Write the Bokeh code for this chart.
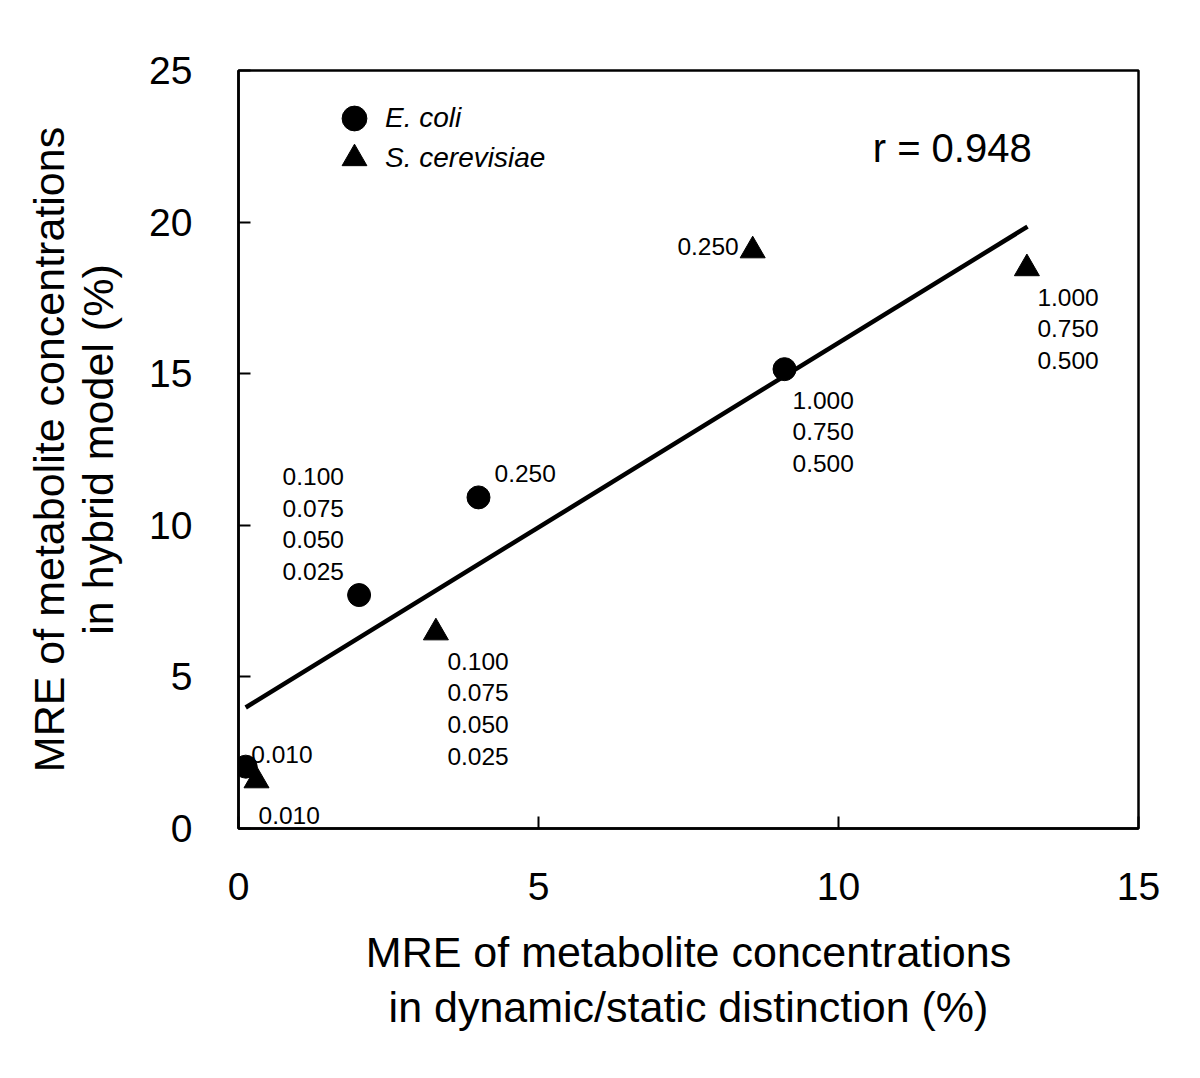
from bokeh.plotting import figure
from bokeh.models import (Range1d, FixedTicker, ColumnDataSource, Legend, LegendItem, Label)
from bokeh.embed import file_html
from bokeh.resources import INLINE
from bokeh.core.properties import value

# ---- data ----
ecoli_x = [0.12, 2.01, 4.0, 9.1]
ecoli_y = [2.04, 7.70, 10.92, 15.15]
ecoli_labels = ["0.010", "0.100\n0.075\n0.050\n0.025", "0.250", "1.000\n0.750\n0.500"]

scer_x = [0.3, 3.29, 8.57, 13.14]
scer_y = [1.58, 6.46, 19.06, 18.47]
scer_labels = ["0.010", "0.100\n0.075\n0.050\n0.025", "0.250", "1.000\n0.750\n0.500"]

fit_x = [0.12, 13.15]
fit_y = [3.99, 19.85]
r_text = "r = 0.948"

x_ticks = [0, 5, 10, 15]
y_ticks = [0, 5, 10, 15, 20, 25]

# ---- label styling (pixel offsets from each point) ----
ecoli_dx = [5.5, -76.5, 16, 8]
ecoli_dy = [-12, -71, -24, 62.5]
ecoli_align = ["left", "left", "left", "left"]
scer_dx = [2, 11.5, -14, 10.5]
scer_dy = [35, 76, -4, 60.5]
scer_align = ["left", "left", "right", "left"]

FONT = "Liberation Sans"

p = figure(width=1184, height=1062, output_backend="svg", toolbar_location=None,
           x_range=Range1d(0, 15), y_range=Range1d(0, 25),
           min_border_left=238, min_border_right=46, min_border_top=70, min_border_bottom=234)
p.background_fill_color = "white"
p.border_fill_color = "white"
p.outline_line_color = "black"
p.outline_line_width = 2.5
p.xgrid.visible = False
p.ygrid.visible = False

p.xaxis.ticker = FixedTicker(ticks=x_ticks)
p.yaxis.ticker = FixedTicker(ticks=y_ticks)
for ax in (p.xaxis[0], p.yaxis[0]):
    ax.axis_line_color = "black"
    ax.axis_line_width = 2.5
    ax.major_tick_in = 12
    ax.major_tick_out = 0
    ax.major_tick_line_width = 2
    ax.major_tick_line_color = "black"
    ax.minor_tick_line_color = None
    ax.major_label_text_font = FONT
    ax.major_label_text_font_size = "39px"
    ax.major_label_text_color = "black"
    ax.axis_label_text_font = FONT
    ax.axis_label_text_font_size = "43px"
    ax.axis_label_text_font_style = "normal"
    ax.axis_label_text_color = "black"

p.xaxis.axis_label_text_line_height = 1.15
p.yaxis.axis_label_text_line_height = 1.02
p.xaxis.axis_label = "MRE of metabolite concentrations\nin dynamic/static distinction (%)"
p.yaxis.axis_label = "MRE of metabolite concentrations\nin hybrid model (%)"
p.xaxis.major_label_standoff = 44
p.yaxis.major_label_standoff = 46
p.xaxis.axis_label_standoff = 25
p.yaxis.axis_label_standoff = 24

# fit line
p.line(fit_x, fit_y, line_color="black", line_width=4.5)

# points
ec_src = ColumnDataSource(dict(x=ecoli_x, y=ecoli_y, label=ecoli_labels,
                               dx=ecoli_dx, dy=ecoli_dy, align=ecoli_align))
sc_src = ColumnDataSource(dict(x=scer_x, y=scer_y, label=scer_labels,
                               dx=scer_dx, dy=scer_dy, align=scer_align))

r_ec = p.scatter("x", "y", source=ec_src, marker="circle", size=23,
                 fill_color="black", line_color="black")
r_sc = p.scatter("x", "y", source=sc_src, marker="triangle", size=25,
                 fill_color="black", line_color="black")

for src in (ec_src, sc_src):
    p.text("x", "y", text="label", source=src, x_offset="dx", y_offset="dy",
           text_align="align", text_baseline="middle",
           text_font=value(FONT), text_font_size="24.5px", text_color="black",
           text_line_height=1.17)

# r label
p.add_layout(Label(x=10.57, y=22.46, text=r_text, text_baseline="middle",
                   text_font=FONT, text_font_size="40px", text_color="black"))

# legend: one Legend per entry so the marker box can be large
def make_legend(label, renderer, loc):
    lg = Legend(items=[LegendItem(label=label, renderers=[renderer])], location=loc)
    lg.label_text_font = FONT
    lg.label_text_font_style = "italic"
    lg.label_text_font_size = "28px"
    lg.label_text_color = "black"
    lg.glyph_width = 62
    lg.glyph_height = 62
    lg.label_height = 62
    lg.label_standoff = -10
    lg.spacing = 0
    lg.padding = 0
    lg.margin = 0
    lg.border_line_color = None
    lg.background_fill_alpha = 0
    return lg

p.add_layout(make_legend("E. coli", r_ec, (85, 679)))
p.add_layout(make_legend("S. cerevisiae", r_sc, (85, 639)))

open("out.html", "w").write(file_html(p, INLINE))
